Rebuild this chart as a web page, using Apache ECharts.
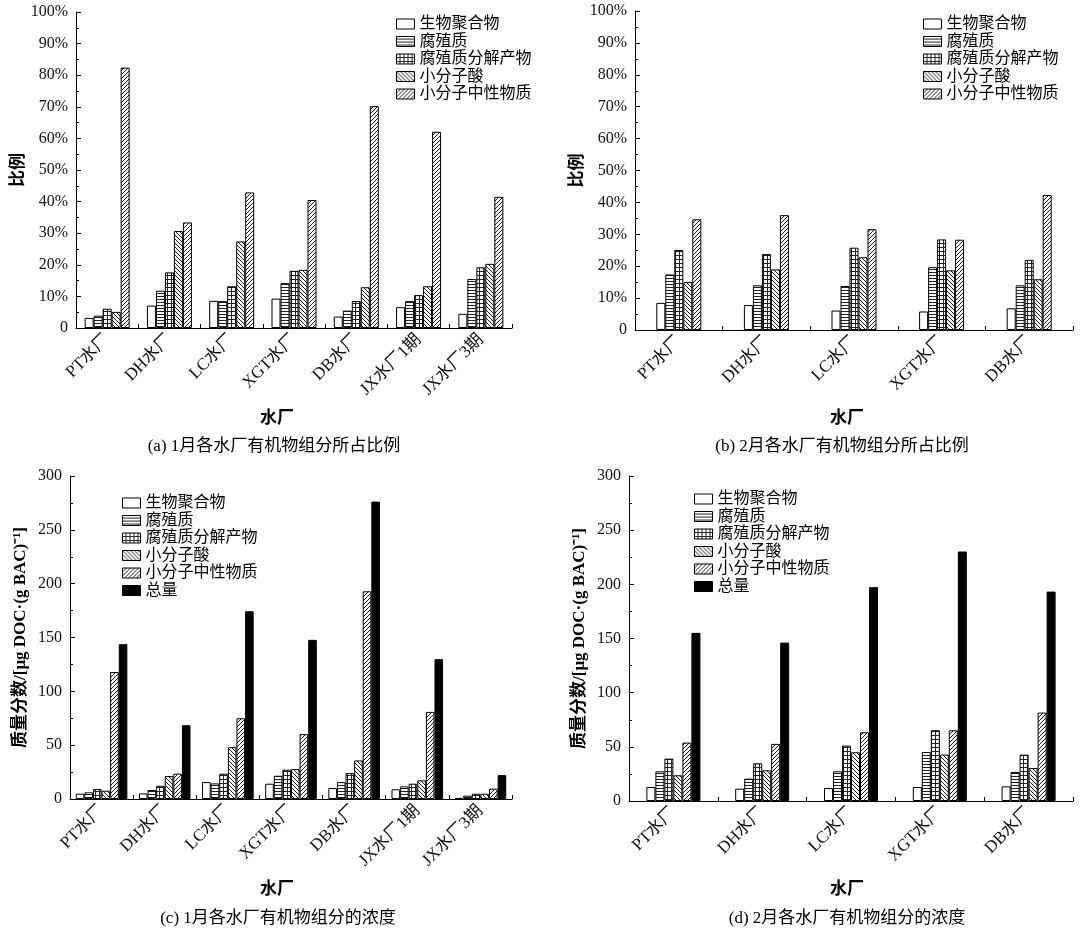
<!DOCTYPE html>
<html>
<head>
<meta charset="utf-8">
<script src="https://cdn.jsdelivr.net/npm/echarts@6/dist/echarts.min.js"></script>
<style>
  html, body { margin: 0; padding: 0; background: #fff; }
  #chart { width: 1080px; height: 931px; }
</style>
</head>
<body>
<div id="chart"></div>
<script>
// categories
const plantsJan = ['PT水厂', 'DH水厂', 'LC水厂', 'XGT水厂', 'DB水厂', 'JX水厂1期', 'JX水厂3期']
const plantsFeb = ['PT水厂', 'DH水厂', 'LC水厂', 'XGT水厂', 'DB水厂']
const componentNames = ['生物聚合物', '腐殖质', '腐殖质分解产物', '小分子酸', '小分子中性物质', '总量']

// (a) January share, %
const janBiopolymer = [3.2, 7.1, 8.6, 9.3, 3.6, 6.6, 4.5]
const janHumic = [3.9, 11.8, 8.5, 14.2, 5.5, 8.5, 15.5]
const janBuilding = [6.1, 17.6, 13.2, 18.1, 8.5, 10.4, 19.2]
const janAcid = [5.1, 30.7, 27.4, 18.4, 12.9, 13.2, 20.3]
const janNeutral = [82.4, 33.4, 42.9, 40.5, 70.2, 62.1, 41.5]

// (b) February share, %
const febBiopolymer = [8.5, 7.8, 6.1, 5.8, 6.8]
const febHumic = [17.4, 14.0, 13.8, 19.7, 14.0]
const febBuilding = [25.1, 23.8, 25.8, 28.4, 22.0]
const febAcid = [15.0, 19.0, 22.8, 18.7, 15.9]
const febNeutral = [34.7, 36.0, 31.6, 28.3, 42.3]

// (c) January concentration
const janConcBiopolymer = [4.9, 5.2, 15.7, 14.2, 10.2, 9.0, 1.0]
const janConcHumic = [6.2, 8.3, 14.5, 21.6, 15.7, 11.7, 3.1]
const janConcBuilding = [9.3, 12.3, 23.5, 27.2, 24.1, 14.2, 4.9]
const janConcAcid = [7.7, 21.3, 48.1, 27.8, 35.8, 17.3, 4.9]
const janConcNeutral = [117.9, 23.5, 75.0, 60.2, 192.9, 80.9, 9.6]
const janConcTotal = [143.8, 68.5, 174.4, 147.8, 276.2, 129.9, 22.2]

// (d) February concentration
const febConcBiopolymer = [12.9, 11.4, 12.0, 12.9, 13.5]
const febConcHumic = [27.4, 20.6, 27.4, 45.2, 26.8]
const febConcBuilding = [39.1, 34.8, 51.1, 65.3, 42.8]
const febConcAcid = [23.7, 28.3, 45.0, 42.8, 30.5]
const febConcNeutral = [53.9, 52.7, 63.4, 65.3, 81.6]
const febConcTotal = [155.2, 146.2, 197.4, 230.3, 193.3]

const shareTicks = [0, 10, 20, 30, 40, 50, 60, 70, 80, 90, 100]
const concTicks = [0, 50, 100, 150, 200, 250, 300]

const FONT = '"Liberation Serif", "Times New Roman", "Noto Sans CJK SC", serif'

// 填充图案
const makePattern = (kind) => {
  const n = kind === 'h' ? 3 : 4
  const c = document.createElement('canvas')
  c.width = n
  c.height = n
  const g = c.getContext('2d')
  g.fillStyle = '#fff'
  g.fillRect(0, 0, n, n)
  g.strokeStyle = '#222'
  g.lineWidth = 1
  g.beginPath()
  if (kind === 'h' || kind === 'grid') {
    g.moveTo(0, n - 0.5)
    g.lineTo(n, n - 0.5)
  }
  if (kind === 'grid') {
    g.moveTo(n - 0.5, 0)
    g.lineTo(n - 0.5, n)
  }
  if (kind === 'back') {
    for (const k of [-n, 0, n]) {
      g.moveTo(k, 0)
      g.lineTo(k + n, n)
    }
  }
  if (kind === 'fwd') {
    for (const k of [-n, 0, n]) {
      g.moveTo(k, n)
      g.lineTo(k + n, 0)
    }
  }
  g.stroke()
  return { image: c, repeat: 'repeat' }
}

const fills = ['#fff', makePattern('h'), makePattern('grid'), makePattern('back'), makePattern('fwd'), '#000']

const grids = [
  { left: 76, top: 12, width: 436, height: 316 },
  { left: 635, top: 11, width: 438, height: 319 },
  { left: 70, top: 476, width: 442, height: 323 },
  { left: 629, top: 476, width: 444, height: 325 },
]

const xAxis = (gridIndex, data) => ({
  type: 'category',
  gridIndex,
  data,
  axisLine: { lineStyle: { color: '#000', width: 1 } },
  axisTick: { show: true, inside: true, length: 4, lineStyle: { color: '#000' } },
  axisLabel: { rotate: 45, color: '#111', fontSize: 17, fontFamily: FONT, margin: 9, interval: 0 },
})

const yAxis = (gridIndex, ticks, isShare, name, nameGap) => ({
  type: 'value',
  gridIndex,
  min: ticks[0],
  max: ticks[ticks.length - 1],
  interval: ticks[1] - ticks[0],
  name,
  nameLocation: 'middle',
  nameGap,
  nameRotate: 90,
  nameTextStyle: { color: '#000', fontSize: 17, fontWeight: 'bold', fontFamily: FONT },
  axisLine: { show: true, lineStyle: { color: '#000', width: 1 } },
  axisTick: { show: true, inside: true, length: 5, lineStyle: { color: '#000' } },
  minorTick: { show: true, splitNumber: 2, length: 3, lineStyle: { color: '#000' } },
  splitLine: { show: false },
  axisLabel: {
    color: '#111',
    fontSize: 16,
    fontFamily: FONT,
    margin: 8,
    formatter: (v) => (isShare && v !== 0 ? v + '%' : String(v)),
  },
})

const barSeries = (axisIndex, lists) =>
  lists.map((data, i) => ({
    name: componentNames[i],
    type: 'bar',
    xAxisIndex: axisIndex,
    yAxisIndex: axisIndex,
    data,
    barWidth: lists.length === 6 && axisIndex === 2 ? 8.6 : 9,
    barGap: '0%',
    itemStyle: { color: fills[i], borderColor: '#000', borderWidth: 1 },
  }))

const legend = (left, top, withTotal) => ({
  left,
  top,
  orient: 'vertical',
  icon: 'rect',
  itemWidth: 18,
  itemHeight: 10,
  itemGap: 1.5,
  selectedMode: false,
  data: withTotal ? componentNames : componentNames.slice(0, 5),
  itemStyle: { borderColor: '#000', borderWidth: 1 },
  textStyle: { color: '#000', fontSize: 16, lineHeight: 16, fontFamily: FONT, padding: [0, 0, 0, 0] },
})

const caption = (text, left, top, size, bold) => ({
  text,
  left,
  top,
  textAlign: 'center',
  textStyle: { fontSize: size, fontWeight: bold ? 'bold' : 'normal', color: '#000', fontFamily: FONT },
})

const chart = echarts.init(document.getElementById('chart'), null, { renderer: 'canvas' })

chart.setOption({
  animation: false,
  backgroundColor: '#fff',
  title: [
    caption('水厂', 272, 405, 17, true),
    caption('(a) 1月各水厂有机物组分所占比例', 269, 433, 17, false),
    caption('水厂', 842, 405, 17, true),
    caption('(b) 2月各水厂有机物组分所占比例', 837, 433, 17, false),
    caption('水厂', 272, 876, 17, true),
    caption('(c) 1月各水厂有机物组分的浓度', 273, 905, 17, false),
    caption('水厂', 842, 876, 17, true),
    caption('(d) 2月各水厂有机物组分的浓度', 842, 905, 17, false),
  ],
  legend: [
    legend(391, 11, false),
    legend(918, 11, false),
    legend(117, 490, true),
    legend(689, 486, true),
  ],
  grid: grids,
  xAxis: [xAxis(0, plantsJan), xAxis(1, plantsFeb), xAxis(2, plantsJan), xAxis(3, plantsFeb)],
  yAxis: [
    yAxis(0, shareTicks, true, '比例', 46),
    yAxis(1, shareTicks, true, '比例', 46),
    yAxis(2, concTicks, false, '质量分数/[μg DOC·(g BAC)⁻¹]', 41),
    yAxis(3, concTicks, false, '质量分数/[μg DOC·(g BAC)⁻¹]', 41),
  ],
  series: [
    ...barSeries(0, [janBiopolymer, janHumic, janBuilding, janAcid, janNeutral]),
    ...barSeries(1, [febBiopolymer, febHumic, febBuilding, febAcid, febNeutral]),
    ...barSeries(2, [janConcBiopolymer, janConcHumic, janConcBuilding, janConcAcid, janConcNeutral, janConcTotal]),
    ...barSeries(3, [febConcBiopolymer, febConcHumic, febConcBuilding, febConcAcid, febConcNeutral, febConcTotal]),
  ],
})
</script>
</body>
</html>
